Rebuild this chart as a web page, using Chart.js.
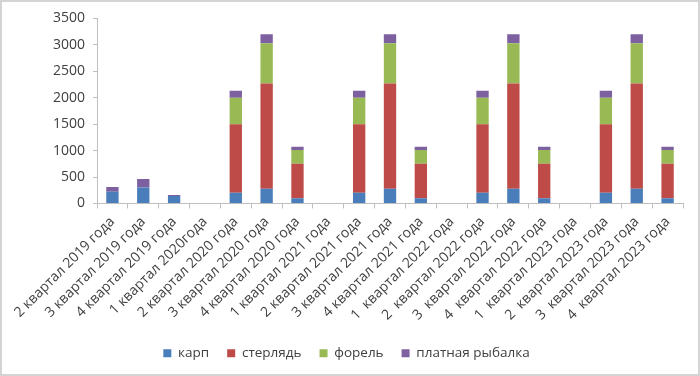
<!DOCTYPE html>
<html>
<head>
<meta charset="utf-8">
<script src="https://cdn.jsdelivr.net/npm/chart.js@4"></script>
<style>
  html, body { margin: 0; padding: 0; background: #fff; }
  #wrap {
    width: 700px; height: 376px; box-sizing: border-box;
    border: 2px solid #d4d4d4; position: relative;
  }
  canvas { display: block; }
</style>
</head>
<body>
<div id="wrap"><canvas id="fishChart"></canvas></div>
<script>
// quarters shown on the x axis
const quarters = [
  '2 квартал 2019 года', '3 квартал 2019 года', '4 квартал 2019 года',
  '1 квартал 2020года', '2 квартал 2020 года', '3 квартал 2020 года', '4 квартал 2020 года',
  '1 квартал 2021 года', '2 квартал 2021 года', '3 квартал 2021 года', '4 квартал 2021 года',
  '1  квартал 2022 года', '2  квартал 2022 года', '3  квартал 2022 года', '4  квартал 2022 года',
  '1  квартал 2023 года', '2  квартал 2023 года', '3  квартал 2023 года', '4  квартал 2023 года'
];

// series values
const karp      = [220, 300, 140, 0, 200, 280, 100, 0, 200, 280, 100, 0, 200, 280, 100, 0, 200, 280, 100];
const sterlyad  = [0, 0, 0, 0, 1300, 1990, 650, 0, 1300, 1990, 650, 0, 1300, 1990, 650, 0, 1300, 1990, 650];
const forel     = [0, 0, 0, 0, 500, 760, 260, 0, 500, 760, 260, 0, 500, 760, 260, 0, 500, 760, 260];
const platnaya  = [90, 160, 20, 0, 130, 170, 60, 0, 130, 170, 60, 0, 130, 170, 60, 0, 130, 170, 60];

const yTicks = [0, 500, 1000, 1500, 2000, 2500, 3000, 3500];

const FONT = '"Open Sans", "Liberation Sans", sans-serif';
const TEXT = '#404040';
const AXIS = '#bfbfbf';

const ctx = document.getElementById('fishChart').getContext('2d');

new Chart(ctx, {
    type: 'bar',
    data: {
        labels: quarters,
        datasets: [
            { label: 'карп', data: karp, backgroundColor: '#4a7ebb' },
            { label: 'стерлядь', data: sterlyad, backgroundColor: '#be4b48' },
            { label: 'форель', data: forel, backgroundColor: '#98b954' },
            { label: 'платная рыбалка', data: platnaya, backgroundColor: '#7d60a0' }
        ]
    },
    options: {
        responsive: true,
        maintainAspectRatio: false,
        animation: false,
        layout: { padding: { top: 10, right: 15, left: 8, bottom: 4 } },
        datasets: { bar: { barPercentage: 0.4, categoryPercentage: 1.0 } },
        plugins: {
            tooltip: { enabled: false },
            legend: {
                position: 'bottom',
                labels: {
                    color: TEXT,
                    boxWidth: 8,
                    boxHeight: 8,
                    padding: 18,
                    font: { family: FONT, size: 13.5 }
                }
            }
        },
        scales: {
            x: {
                stacked: true,
                grid: {
                    offset: true,
                    drawOnChartArea: false,
                    color: AXIS,
                    tickLength: 5
                },
                border: { color: AXIS },
                ticks: {
                    color: TEXT,
                    maxRotation: 45,
                    minRotation: 45,
                    autoSkip: false,
                    padding: 5,
                    font: { family: FONT, size: 14 }
                }
            },
            y: {
                stacked: true,
                min: 0,
                max: 3500,
                afterBuildTicks: scale => { scale.ticks = yTicks.map(v => ({ value: v })); },
                afterFit: scale => { scale.width = 87; },
                grid: {
                    drawOnChartArea: false,
                    color: AXIS,
                    tickLength: 4
                },
                border: { color: AXIS },
                ticks: {
                    color: TEXT,
                    padding: 8,
                    callback: v => String(v),
                    font: { family: FONT, size: 14 }
                }
            }
        }
    }
});
</script>
</body>
</html>
